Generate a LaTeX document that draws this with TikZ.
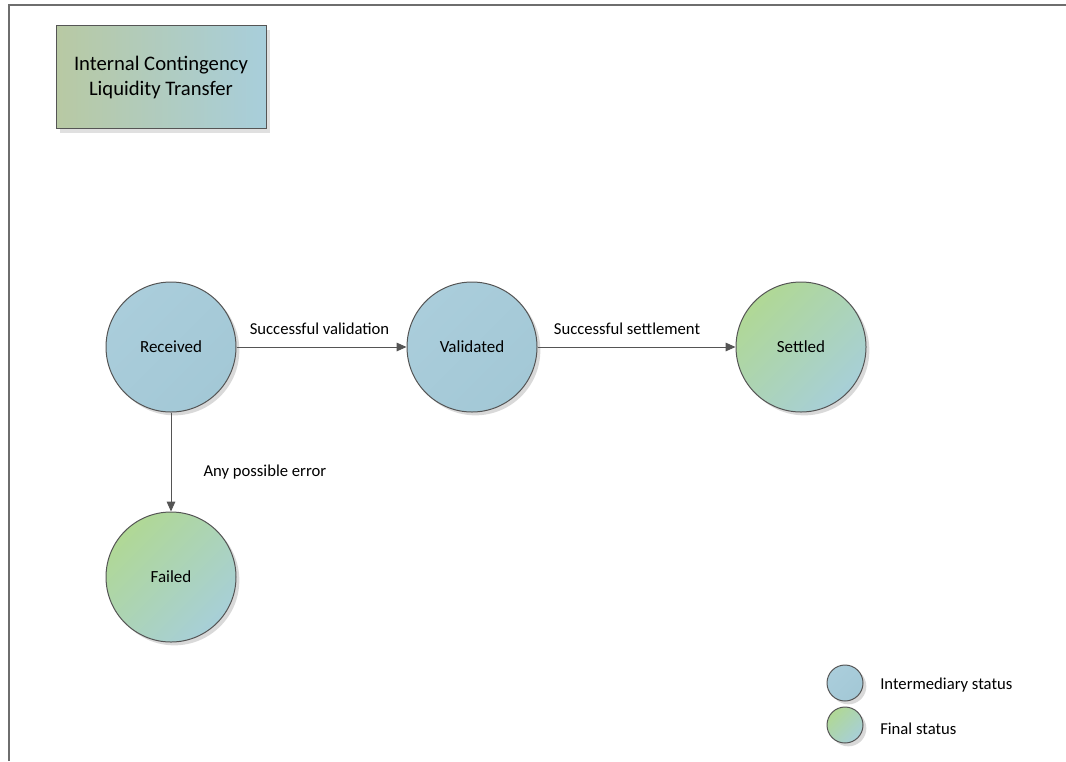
\documentclass[tikz,border=0pt]{standalone}
\usepackage{fontspec}
\setmainfont{Carlito}
\usepackage{xcolor}
\usetikzlibrary{arrows.meta,shadows}

\definecolor{lineGray}{HTML}{555555}
\definecolor{frameGray}{HTML}{6E6E6E}

\begin{document}
\begin{tikzpicture}[x=0.75pt,y=-0.75pt,
    status/.style={circle,draw=lineGray,line width=0.75pt,minimum size=97.5pt,inner sep=0,
      font=\fontsize{12.75}{15}\selectfont,
      drop shadow={shadow xshift=2.5pt,shadow yshift=-2.5pt,opacity=0.15,fill=black}},
    interm/.style={status,shading=blueShading,shading angle=-45},
    final/.style={status,shading=greenShading,shading angle=-45},
    key/.style={minimum size=27pt},
    trans/.style={draw=lineGray,line width=0.75pt,-{Triangle[length=7.5pt,width=6.5pt]}},
    lbl/.style={font=\fontsize{12.5}{15}\selectfont,inner sep=0}]

    \pgfdeclarehorizontalshading{blueShading}{100bp}{
    color(0bp)=(rgb,255:red,170;green,205;blue,219);
    color(25bp)=(rgb,255:red,170;green,205;blue,219);
    color(75bp)=(rgb,255:red,163;green,200;blue,214);
    color(100bp)=(rgb,255:red,163;green,200;blue,214)
    }
    \pgfdeclarehorizontalshading{greenShading}{100bp}{
    color(0bp)=(rgb,255:red,176;green,216;blue,149);
    color(25bp)=(rgb,255:red,176;green,216;blue,149);
    color(75bp)=(rgb,255:red,167;green,207;blue,216);
    color(100bp)=(rgb,255:red,167;green,207;blue,216)
    }
    \pgfdeclarehorizontalshading{titleShading}{100bp}{
    color(0bp)=(rgb,255:red,184;green,201;blue,163);
    color(25bp)=(rgb,255:red,184;green,201;blue,163);
    color(75bp)=(rgb,255:red,168;green,206;blue,219);
    color(100bp)=(rgb,255:red,168;green,206;blue,219)
    }

    \useasboundingbox (0,0) rectangle (1066,761);

    % frame
    \draw[frameGray,line width=1.2pt] (9,761) -- (9,5) -- (1066,5);

    % title
    \node[draw=lineGray,line width=0.75pt,shading=titleShading,minimum width=157.5pt,minimum height=77.25pt,
      align=center,font=\fontsize{15.5}{18.75}\selectfont,
      drop shadow={shadow xshift=3pt,shadow yshift=-3pt,opacity=0.12,fill=black}] (title) at (161,77)
      {Internal Contingency\\Liquidity Transfer};

    % states
    \node[interm] (received) at (171,347) {Received};
    \node[interm] (validated) at (472,347) {Validated};
    \node[final] (settled) at (801,347) {Settled};
    \node[final] (failed) at (171,577) {Failed};

    % transitions
    \draw[trans] (received) -- node[lbl,pos=0.075,anchor=base west,yshift=9.75pt] {Successful validation} (validated);
    \draw[trans] (validated) -- node[lbl,pos=0.08,anchor=base west,yshift=9.75pt] {Successful settlement} (settled);
    \draw[trans] (received) -- node[lbl,pos=0.65,anchor=base west,xshift=24pt] {Any possible error} (failed);

    % legend
    \node[interm,key] (keyInterm) at (845,683) {};
    \node[final,key] (keyFinal) at (845,725) {};
    \node[lbl,anchor=base west] at (880,689) {Intermediary status};
    \node[lbl,anchor=base west] at (880,734) {Final status};

\end{tikzpicture}
\end{document}
